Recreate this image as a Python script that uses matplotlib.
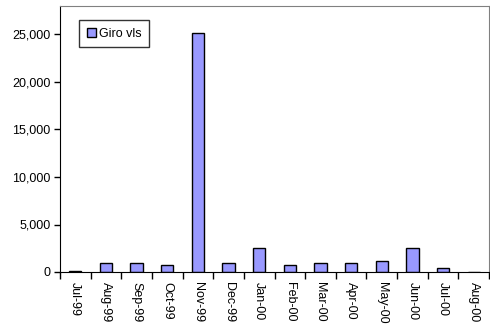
import matplotlib.pyplot as plt
import numpy as np

plt.rcParams['font.family'] = ['Liberation Sans', 'DejaVu Sans']

months = ['Jul-99', 'Aug-99', 'Sep-99', 'Oct-99', 'Nov-99', 'Dec-99', 'Jan-00',
          'Feb-00', 'Mar-00', 'Apr-00', 'May-00', 'Jun-00', 'Jul-00', 'Aug-00']
giro_vls = [100, 900, 1000, 770, 25200, 900, 2550, 770, 1000, 1000, 1190, 2550, 380, 0]

fig = plt.figure(figsize=(4.9, 3.28), dpi=100)
ax = fig.add_axes([60 / 490, 56 / 328, 429 / 490, 266 / 328])

x = np.arange(len(months))
ax.bar(x, giro_vls, width=0.4, color='#9999FF', edgecolor='black', linewidth=1, label='Giro vls')

ax.set_xlim(-0.5, len(months) - 0.5)
ax.set_ylim(0, 28000)
ax.set_yticks(range(0, 25001, 5000))
ax.set_yticklabels([f'{v:,}' for v in range(0, 25001, 5000)], fontsize=9)

# category labels centred, tick marks between categories
ax.set_xticks(x)
ax.set_xticklabels(months, rotation=-90, fontsize=9)
ax.tick_params(axis='x', length=0, pad=7)
ax.set_xticks(np.arange(-0.5, len(months)), minor=True)
ax.tick_params(axis='x', which='minor', length=5, width=1, direction='out')
ax.tick_params(axis='y', length=4, width=1, direction='out', pad=3)

for side in ('top', 'right'):
    ax.spines[side].set_color('#808080')
for side in ('left', 'bottom'):
    ax.spines[side].set_color('black')

leg = ax.legend(loc='upper left', bbox_to_anchor=(0.045, 0.947), fontsize=9, frameon=True,
                fancybox=False, edgecolor='black', handlelength=0.7, handleheight=0.7,
                handletextpad=0.3, borderpad=0.6, borderaxespad=0)
leg.get_frame().set_linewidth(1)

fig.savefig('out.png', dpi=100)
